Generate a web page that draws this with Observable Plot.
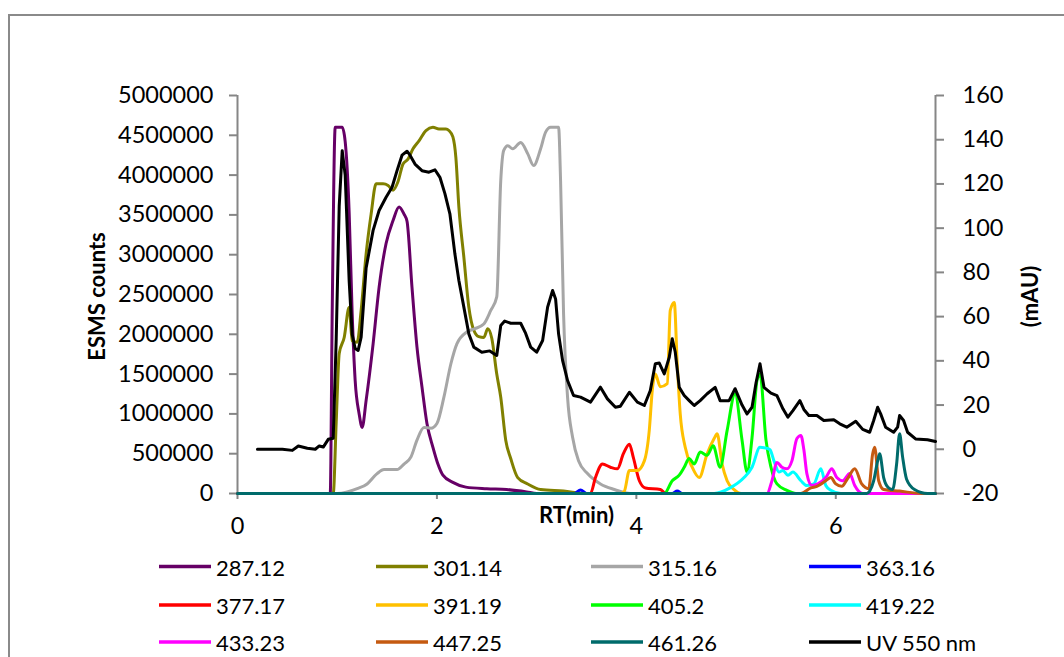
<!DOCTYPE html>
<html>
<head>
<meta charset="utf-8">
<script src="https://cdn.jsdelivr.net/npm/d3@7"></script>
<script src="https://cdn.jsdelivr.net/npm/@observablehq/plot@0.6"></script>
<style>
  html, body { margin: 0; padding: 0; background: #fff; }
  body { width: 1064px; height: 657px; overflow: hidden; position: relative; font-family: Lato, "Open Sans", sans-serif; }
  #chart { position: absolute; left: 0; top: 0; }
  #frame { position: absolute; left: 8px; top: 14px; width: 1200px; height: 800px;
           border-left: 2px solid #8a8a8a; border-top: 2px solid #8a8a8a; pointer-events: none; }
</style>
</head>
<body>
<div id="chart"></div>
<div id="legendBox"></div>
<div id="frame"></div>
<script>
// ---------------- DATA ----------------
const seriesNames = ["287.12", "301.14", "315.16", "363.16", "377.17", "391.19",
                     "405.2", "419.22", "433.23", "447.25", "461.26"];
const seriesColors = ["#660066", "#808000", "#A6A6A6", "#0000FF", "#FF0000", "#FFC000",
                      "#00FF00", "#00FFFF", "#FF00FF", "#C55A11", "#006B6B"];
const uvName = "UV 550 nm";
const uvColor = "#000000";

const xTicks = [0, 2, 4, 6];
const leftTicks = [0, 500000, 1000000, 1500000, 2000000, 2500000, 3000000, 3500000, 4000000, 4500000, 5000000];
const rightTicks = [-20, 0, 20, 40, 60, 80, 100, 120, 140, 160];

// [RT (min), ESMS counts]
const s287 = [[0,0],[0.93,0],[0.95,2300000],[0.98,4600000],[1.05,4600000],[1.08,4420000],[1.12,3520000],[1.15,2260000],[1.18,1420000],[1.22,1000000],[1.25,830000],[1.29,1170000],[1.36,1880000],[1.42,2590000],[1.49,3140000],[1.56,3430000],[1.62,3600000],[1.67,3510000],[1.70,3420000],[1.75,2590000],[1.80,1840000],[1.85,1340000],[1.90,880000],[1.96,580000],[2.01,370000],[2.06,230000],[2.16,140000],[2.29,80000],[2.50,60000],[2.70,50000],[2.90,20000],[3.0,0],[7,0]];
const s301 = [[0,0],[0.96,0],[0.99,900000],[1.02,1760000],[1.07,1960000],[1.12,2340000],[1.15,1920000],[1.20,1900000],[1.24,2300000],[1.29,3010000],[1.34,3510000],[1.39,3890000],[1.46,3890000],[1.51,3870000],[1.56,3810000],[1.61,3920000],[1.66,4140000],[1.71,4200000],[1.76,4330000],[1.82,4430000],[1.89,4560000],[1.96,4600000],[2.02,4580000],[2.09,4580000],[2.12,4560000],[2.16,4480000],[2.19,4220000],[2.22,3600000],[2.27,2970000],[2.32,2340000],[2.37,2050000],[2.42,1970000],[2.47,1960000],[2.51,2070000],[2.55,1950000],[2.60,1500000],[2.64,1210000],[2.69,670000],[2.74,440000],[2.81,200000],[2.91,120000],[3.04,50000],[3.27,30000],[3.5,0],[7,0]];
const s315 = [[0,0],[1.0,0],[1.2,60000],[1.30,120000],[1.40,250000],[1.47,300000],[1.60,300000],[1.67,370000],[1.74,460000],[1.80,670000],[1.87,830000],[1.94,820000],[2.0,880000],[2.07,1210000],[2.14,1630000],[2.20,1880000],[2.30,2030000],[2.38,2070000],[2.47,2130000],[2.54,2300000],[2.60,2470000],[2.64,3930000],[2.67,4310000],[2.71,4370000],[2.76,4330000],[2.84,4410000],[2.91,4270000],[2.97,4120000],[3.04,4330000],[3.09,4540000],[3.14,4600000],[3.22,4600000],[3.24,3930000],[3.27,2260000],[3.31,1210000],[3.36,710000],[3.42,410000],[3.51,250000],[3.64,120000],[3.78,50000],[3.94,0],[7,0]];
const s363 = [[0,0],[3.38,0],[3.44,45000],[3.50,0],[4.36,0],[4.41,30000],[4.46,0],[7,0]];
const s377 = [[0,0],[3.54,0],[3.59,200000],[3.66,370000],[3.74,330000],[3.81,310000],[3.87,500000],[3.93,620000],[3.97,450000],[4.03,160000],[4.09,70000],[4.24,50000],[4.30,0],[7,0]];
const s391 = [[0,0],[3.84,0],[3.88,30000],[3.93,290000],[4.01,290000],[4.08,410000],[4.13,800000],[4.16,1300000],[4.19,1500000],[4.24,1340000],[4.31,1380000],[4.34,2300000],[4.38,2400000],[4.41,1630000],[4.44,1000000],[4.49,580000],[4.56,330000],[4.63,200000],[4.71,500000],[4.78,690000],[4.81,750000],[4.86,370000],[4.91,160000],[4.98,50000],[5.05,0],[7,0]];
const s405 = [[0,0],[4.28,0],[4.36,160000],[4.43,230000],[4.48,330000],[4.53,440000],[4.58,370000],[4.64,520000],[4.71,480000],[4.77,600000],[4.84,330000],[4.91,790000],[4.99,1250000],[5.06,670000],[5.11,270000],[5.16,700000],[5.21,1420000],[5.24,1500000],[5.30,670000],[5.35,330000],[5.41,120000],[5.51,40000],[5.60,0],[7,0]];
const s419 = [[0,0],[4.78,0],[4.94,70000],[5.08,200000],[5.16,330000],[5.24,580000],[5.30,570000],[5.34,550000],[5.38,410000],[5.43,270000],[5.47,290000],[5.52,230000],[5.57,270000],[5.65,160000],[5.71,100000],[5.78,120000],[5.85,310000],[5.90,100000],[5.95,40000],[6.05,0],[7,0]];
const s433 = [[0,0],[5.31,0],[5.36,160000],[5.41,390000],[5.46,330000],[5.51,310000],[5.56,410000],[5.61,690000],[5.65,730000],[5.68,550000],[5.71,250000],[5.76,100000],[5.82,120000],[5.90,200000],[5.96,310000],[6.01,200000],[6.07,160000],[6.14,250000],[6.19,100000],[6.27,0],[7,0]];
const s447 = [[0,0],[5.65,0],[5.75,70000],[5.81,90000],[5.90,160000],[5.95,200000],[6.00,120000],[6.06,90000],[6.12,190000],[6.19,310000],[6.26,120000],[6.33,60000],[6.37,500000],[6.39,580000],[6.43,160000],[6.48,50000],[6.64,30000],[6.86,0],[7,0]];
const s461 = [[0,0],[6.31,0],[6.38,160000],[6.42,410000],[6.44,500000],[6.48,200000],[6.53,70000],[6.57,50000],[6.61,370000],[6.64,750000],[6.67,460000],[6.71,180000],[6.79,50000],[6.92,0],[7,0]];

// [RT (min), UV 550 nm (mAU)]
const uv550 = [[0.20,0],[0.45,0],[0.55,-0.5],[0.61,1.5],[0.70,0.5],[0.78,0],[0.82,1.5],[0.86,1],[0.91,4.5],[0.96,5],[0.99,50],[1.02,110],[1.05,135],[1.08,124],[1.12,76],[1.15,52],[1.18,45.6],[1.21,44.7],[1.24,50.7],[1.29,82],[1.36,99],[1.42,108],[1.49,114],[1.55,118.5],[1.60,126],[1.65,133],[1.70,134.8],[1.73,133],[1.78,129],[1.85,126],[1.92,125.3],[1.98,126.4],[2.03,123],[2.08,115.6],[2.13,106.5],[2.18,88.4],[2.22,76.3],[2.27,64.3],[2.32,52.2],[2.37,46.2],[2.45,43.9],[2.53,44.5],[2.60,42.4],[2.64,56],[2.68,58],[2.74,57],[2.84,57],[2.89,52.4],[2.94,46.2],[3.0,43.9],[3.06,49.2],[3.11,64.3],[3.16,71.8],[3.19,68],[3.22,52.2],[3.26,40.2],[3.31,31.1],[3.37,24.3],[3.44,23.6],[3.54,21.3],[3.64,28.1],[3.71,22.8],[3.79,19],[3.84,19.5],[3.93,25.8],[4.01,21.3],[4.08,19.8],[4.14,26.6],[4.19,38.7],[4.23,39],[4.28,34.1],[4.33,41.6],[4.36,50],[4.39,44],[4.43,28],[4.48,24.3],[4.53,22],[4.58,19.8],[4.64,22],[4.71,25.1],[4.79,28],[4.84,22],[4.93,22],[4.99,27.4],[5.06,20],[5.11,16],[5.16,19],[5.20,30],[5.24,38.7],[5.28,28],[5.35,25.4],[5.41,24.3],[5.47,18.3],[5.52,14.5],[5.57,17.5],[5.64,22],[5.68,18],[5.73,15.3],[5.81,15.3],[5.88,13],[5.98,13.3],[6.04,11.5],[6.11,10],[6.20,12.7],[6.27,9],[6.34,7.7],[6.38,13],[6.42,19],[6.45,16],[6.50,10],[6.58,7.7],[6.62,10],[6.64,15.3],[6.68,13],[6.72,7.7],[6.80,4.7],[6.92,4.3],[7.0,3.5]];

const msSeries = [s287, s301, s315, s363, s377, s391, s405, s419, s433, s447, s461];

// ---------------- SCALES ----------------
const xDomain = [0, 7];
const countsMax = 5000000;
const uvMin = -20, uvMax = 160;
const uvToCounts = u => (u - uvMin) / (uvMax - uvMin) * countsMax;
const countsToUv = v => v / countsMax * (uvMax - uvMin) + uvMin;

const axisGray = "#868686";
const font = "Lato, 'Open Sans', sans-serif";

const chart = Plot.plot({
  width: 1064,
  height: 545,
  marginLeft: 237,
  marginRight: 129,
  marginTop: 95,
  marginBottom: 52,
  style: { fontFamily: font, fontSize: "23.5px", color: "#000", background: "transparent", overflow: "visible" },
  x: { domain: xDomain, label: null },
  y: { domain: [0, countsMax], label: null },
  marks: [
    Plot.ruleY([0], { stroke: axisGray, strokeWidth: 2 }),
    Plot.ruleX(xDomain, { stroke: axisGray, strokeWidth: 2 }),
    Plot.axisX({ ticks: xTicks, tickSize: 6, tickPadding: 18, tickFormat: d => String(d), label: null }),
    Plot.axisY({ ticks: leftTicks, tickSize: 8, tickPadding: 16, tickFormat: d => String(d), label: null }),
    Plot.axisY({ anchor: "right", ticks: rightTicks.map(uvToCounts), tickSize: 8, tickPadding: 19,
                 tickFormat: v => String(Math.round(countsToUv(v))), label: null }),
    ...msSeries.map((s, i) => Plot.line(s, {
      x: d => d[0], y: d => d[1], stroke: seriesColors[i], strokeWidth: 3,
      curve: "monotone-x", strokeLinejoin: "round"
    })),
    Plot.line(uv550, { x: d => d[0], y: d => uvToCounts(d[1]), stroke: uvColor, strokeWidth: 3, strokeLinejoin: "round" }),
    Plot.text(["RT(min)"], { text: d => d, frameAnchor: "bottom", textAnchor: "middle", dx: -10, dy: 22, fontSize: 22, fontWeight: "bold", lineAnchor: "middle" }),
    Plot.text(["ESMS counts"], { text: d => d, frameAnchor: "left", textAnchor: "middle", dx: -140, dy: 2, rotate: -90, fontSize: 22, fontWeight: "bold", lineAnchor: "middle" }),
    Plot.text(["(mAU)"], { text: d => d, frameAnchor: "right", textAnchor: "middle", dx: 95, dy: 2, rotate: -90, fontSize: 22, fontWeight: "bold", lineAnchor: "middle" })
  ]
});
d3.select(chart).selectAll('[aria-label$="-axis tick"]').attr("stroke", axisGray).attr("stroke-width", 2);
document.getElementById("chart").appendChild(chart);

// ---------------- LEGEND ----------------
const legendNames = [...seriesNames, uvName];
const legendColors = [...seriesColors, uvColor];
const colX = [159, 376, 591, 809];
const rowY = [566.5, 605, 642];
const legendTop = 545;
const legend = d3.create("svg")
  .attr("width", 1064).attr("height", 112)
  .style("position", "absolute").style("left", "0px").style("top", legendTop + "px")
  .style("font-family", font).style("font-size", "22px");
legendNames.forEach((name, i) => {
  const c = i % 4, r = Math.floor(i / 4);
  const x = colX[c], y = rowY[r] - legendTop;
  legend.append("line").attr("x1", x).attr("x2", x + 52).attr("y1", y).attr("y2", y)
    .attr("stroke", legendColors[i]).attr("stroke-width", 3.5);
  legend.append("text").attr("x", x + 57).attr("y", y + 9).attr("fill", "#000").text(name);
});
document.getElementById("legendBox").appendChild(legend.node());
</script>
</body>
</html>
